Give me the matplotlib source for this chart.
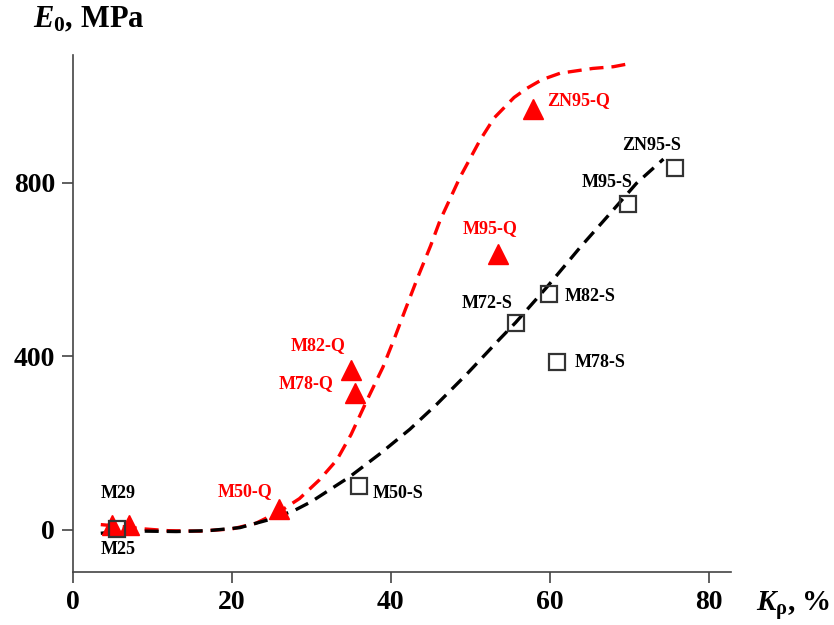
import matplotlib
matplotlib.use('Agg')
import matplotlib.pyplot as plt

plt.rcParams['font.family'] = ['Liberation Serif', 'DejaVu Serif']
plt.rcParams['font.weight'] = 'bold'
plt.rcParams['mathtext.fontset'] = 'custom'
plt.rcParams['mathtext.rm'] = 'Liberation Serif:bold'
plt.rcParams['mathtext.it'] = 'Liberation Serif:italic:bold'
plt.rcParams['mathtext.bf'] = 'Liberation Serif:bold'

# Q series (red triangles)
q_names = ['M29', 'M29', 'M50-Q', 'M78-Q', 'M82-Q', 'M95-Q', 'ZN95-Q']
q_k = [4.9, 7.0, 25.9, 35.5, 35.0, 53.5, 57.9]
q_e = [10, 10, 48, 315, 368, 637, 970]

# S series (open squares)
s_names = ['M25', 'M50-S', 'M72-S', 'M78-S', 'M82-S', 'M95-S', 'ZN95-S']
s_k = [5.5, 36.0, 55.8, 60.9, 59.9, 69.8, 75.8]
s_e = [3, 101, 476, 386, 543, 752, 834]

# dashed trend curves
red_k = [3.5, 6, 9, 12, 16, 20, 23, 26, 28.5, 31, 33.2, 35, 37, 39, 40.5, 41.8,
         43.4, 45, 46.2, 48.7, 51.2, 53, 55.5, 57.1, 59, 61.3, 65.4, 68, 70]
red_e = [12, 8, 2, -2, -3, 2, 15, 42, 72, 115, 161, 220, 299, 375, 444, 507,
         583, 655, 714, 813, 898, 950, 997, 1018, 1038, 1053, 1064, 1068, 1075]
blk_k = [3.5, 5, 9, 13, 17, 21, 25, 28, 30, 34.8, 38.6, 42.4, 45.8, 49.6,
         53.7, 55.7, 59.6, 63.8, 67.9, 70.9, 74.3]
blk_e = [-8, -5, -3, -4, -2, 5, 25, 46, 65, 122, 175, 232, 290, 360,
         440, 478, 559, 651, 736, 799, 855]

fig = plt.figure(figsize=(8.34, 6.25), dpi=100)
ax = fig.add_axes([0.0875, 0.085, 0.789, 0.827])

ax.plot(red_k, red_e, color='#ff0000', lw=2.4, dashes=(4.2, 2.4), zorder=2)
ax.plot(blk_k, blk_e, color='black', lw=2.4, dashes=(4.2, 2.4), zorder=2)

ax.plot(q_k, q_e, linestyle='none', marker='^', ms=14, color='#ff0000',
        markeredgecolor='#ff0000', zorder=3)
ax.plot(s_k, s_e, linestyle='none', marker='s', ms=11, markerfacecolor='none',
        markeredgecolor='#333333', markeredgewidth=1.6, zorder=3)

# labels
fs = 13
red = '#ff0000'
ax.text(5.7, 83, 'M29', color='black', fontsize=fs, ha='center', va='center')
ax.text(5.7, -46, 'M25', color='black', fontsize=fs, ha='center', va='center')
ax.text(21.6, 88, 'M50-Q', color=red, fontsize=fs, ha='center', va='center')
ax.text(30.8, 426, 'M82-Q', color=red, fontsize=fs, ha='center', va='center')
ax.text(29.3, 337, 'M78-Q', color=red, fontsize=fs, ha='center', va='center')
ax.text(52.5, 694, 'M95-Q', color=red, fontsize=fs, ha='center', va='center')
ax.text(59.7, 989, 'ZN95-Q', color=red, fontsize=fs, ha='left', va='center')
ax.text(72.8, 887, 'ZN95-S', color='black', fontsize=fs, ha='center', va='center')
ax.text(67.2, 800, 'M95-S', color='black', fontsize=fs, ha='center', va='center')
ax.text(52.1, 521, 'M72-S', color='black', fontsize=fs, ha='center', va='center')
ax.text(61.9, 539, 'M82-S', color='black', fontsize=fs, ha='left', va='center')
ax.text(63.1, 385, 'M78-S', color='black', fontsize=fs, ha='left', va='center')
ax.text(37.7, 83, 'M50-S', color='black', fontsize=fs, ha='left', va='center')

ax.set_xlim(0, 82.8)
ax.set_ylim(-97, 1095)
ax.set_xticks([0, 20, 40, 60, 80])
ax.set_yticks([0, 400, 800])
for s in ['top', 'right']:
    ax.spines[s].set_visible(False)
for s in ['left', 'bottom']:
    ax.spines[s].set_color('#444444')
    ax.spines[s].set_linewidth(1.2)
ax.tick_params(axis='both', direction='out', length=8, width=1.2,
               color='#444444', labelsize=20, pad=5)

fig.text(0.04, 0.968, r'$E_{0}$, MPa', fontsize=22, ha='left', va='center')
fig.text(0.906, 0.032, r'$K_{\mathrm{\rho}}$, %', fontsize=21, ha='left', va='center')

plt.savefig('out.png', dpi=100)
